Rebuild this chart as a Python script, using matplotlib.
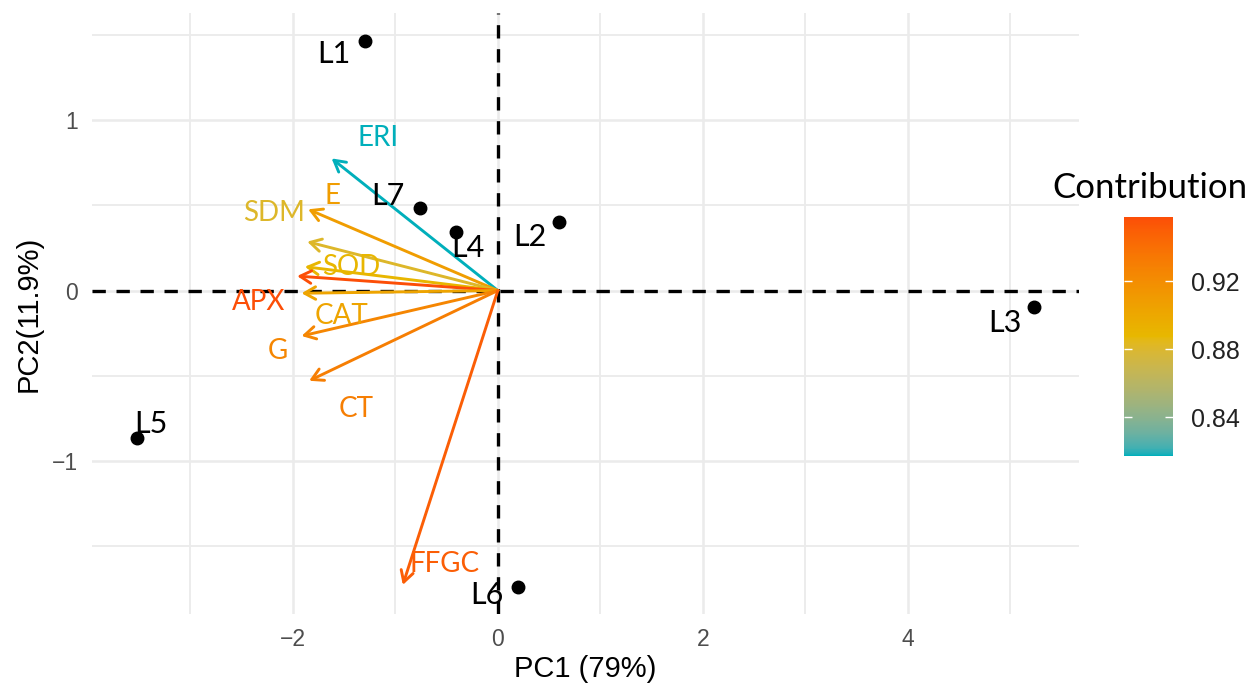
import numpy as np
import matplotlib.pyplot as plt
import matplotlib as mpl
from matplotlib.colors import ListedColormap, Normalize, to_rgb

# individuals (scores on PC1 / PC2)
ind_names = ["L1", "L2", "L3", "L4", "L5", "L6", "L7"]
ind_pc1 = [-1.30, 0.595, 5.23, -0.41, -3.52, 0.195, -0.76]
ind_pc2 = [1.465, 0.402, -0.097, 0.343, -0.866, -1.741, 0.484]
# label offsets from the point, in pixels (repelled labels)
ind_lab_dx = [-31, -29, -29, 12, 14, -31, -32]
ind_lab_dy = [-13, -15, -16, -16, 14, -8, 12]

# variables (arrow tips) and their contribution
var_names = ["ERI", "E", "SDM", "SOD", "APX", "CAT", "G", "CT", "FFGC"]
var_pc1 = [-1.622, -1.851, -1.860, -1.883, -1.958, -1.915, -1.915, -1.841, -0.927]
var_pc2 = [0.776, 0.477, 0.287, 0.140, 0.085, -0.016, -0.267, -0.530, -1.729]
var_contrib = [0.817, 0.908, 0.881, 0.889, 0.958, 0.903, 0.925, 0.930, 0.950]
var_lab_dx = [46, 24, -33, 46, -39, 40, -24, 47, 42]
var_lab_dy = [20, 13, 29, 0, -26, -23, -15, -28, 21]

grad_cols = ["#00AFBB", "#E7B800", "#FC4E07"]


# gradient interpolated in Lab space, like ggplot's gradientn
def srgb_to_lab(rgb):
    c = np.asarray(rgb, float)
    lin = np.where(c <= 0.04045, c / 12.92, ((c + 0.055) / 1.055) ** 2.4)
    m = np.array([[0.4124, 0.3576, 0.1805],
                  [0.2126, 0.7152, 0.0722],
                  [0.0193, 0.1192, 0.9505]])
    xyz = m @ lin / np.array([0.95047, 1.0, 1.08883])
    f = np.where(xyz > 0.008856, np.cbrt(xyz), 7.787 * xyz + 16 / 116)
    return np.array([116 * f[1] - 16, 500 * (f[0] - f[1]), 200 * (f[1] - f[2])])


def lab_to_srgb(lab):
    L, a, b = lab
    fy = (L + 16) / 116
    fx = fy + a / 500
    fz = fy - b / 200
    f = np.array([fx, fy, fz])
    xyz = np.where(f ** 3 > 0.008856, f ** 3, (f - 16 / 116) / 7.787)
    xyz = xyz * np.array([0.95047, 1.0, 1.08883])
    mi = np.array([[3.2406, -1.5372, -0.4986],
                   [-0.9689, 1.8758, 0.0415],
                   [0.0557, -0.2040, 1.0570]])
    lin = mi @ xyz
    lin = np.clip(lin, 0, 1)
    c = np.where(lin <= 0.0031308, 12.92 * lin, 1.055 * lin ** (1 / 2.4) - 0.055)
    return np.clip(c, 0, 1)


labs = [srgb_to_lab(to_rgb(c)) for c in grad_cols]
t = np.linspace(0, 1, 256)
cols = []
for v in t:
    if v <= 0.5:
        w = v / 0.5
        lab = labs[0] * (1 - w) + labs[1] * w
    else:
        w = (v - 0.5) / 0.5
        lab = labs[1] * (1 - w) + labs[2] * w
    cols.append(lab_to_srgb(lab))
cmap = ListedColormap(cols)
norm = Normalize(vmin=min(var_contrib), vmax=max(var_contrib))

fig = plt.figure(figsize=(12.51, 6.84), dpi=100)
ax = fig.add_axes([0.0735, 0.1023, 0.789, 0.8787])

ax.set_xlim(-3.96, 5.67)
ax.set_ylim(-1.90, 1.63)
ax.set_xticks([-2, 0, 2, 4])
ax.set_xticklabels(["\u22122", "0", "2", "4"])
ax.set_yticks([-1, 0, 1])
ax.set_yticklabels(["\u22121", "0", "1"])
ax.set_xticks([-3, -1, 1, 3, 5], minor=True)
ax.set_yticks([-1.5, -0.5, 0.5, 1.5], minor=True)
ax.grid(True, which="major", color="#EBEBEB", lw=1.8)
ax.grid(True, which="minor", color="#EBEBEB", lw=1.3)
ax.set_axisbelow(True)
for s in ax.spines.values():
    s.set_visible(False)
ax.tick_params(which="both", length=0)
ax.tick_params(axis="x", pad=10, labelsize=16.5, labelcolor="#4D4D4D")
ax.tick_params(axis="y", pad=10, labelsize=16.5, labelcolor="#4D4D4D")
for lab in ax.get_xticklabels() + ax.get_yticklabels():
    lab.set_family("Liberation Sans")

ax.axhline(0, color="black", lw=2.4, ls=(0, (4, 3.2)), zorder=2)
ax.axvline(0, color="black", lw=2.4, ls=(0, (4, 3.2)), zorder=2)

ax.set_xlabel("PC1 (79%)", fontsize=21, family="Liberation Sans", labelpad=3)
ax.set_ylabel("PC2(11.9%)", fontsize=21, family="Liberation Sans", labelpad=7)

# individuals
ax.plot(ind_pc1, ind_pc2, "o", color="black", ms=9, zorder=4)
for n, x, y, dx, dy in zip(ind_names, ind_pc1, ind_pc2, ind_lab_dx, ind_lab_dy):
    ax.annotate(n, (x, y), xytext=(dx, dy), textcoords="offset pixels",
                ha="center", va="center", fontsize=22, family="Lato",
                color="black", zorder=5)

# variable arrows
for n, x, y, c, dx, dy in zip(var_names, var_pc1, var_pc2, var_contrib,
                               var_lab_dx, var_lab_dy):
    col = cmap(norm(c))
    ax.annotate("", xy=(x, y), xytext=(0, 0),
                arrowprops=dict(arrowstyle="->,head_length=0.8,head_width=0.45",
                                color=col, lw=2.1, shrinkA=0, shrinkB=0),
                zorder=3)
    ax.annotate(n, (x, y), xytext=(dx, dy), textcoords="offset pixels",
                ha="center", va="center", fontsize=20, family="Lato",
                color=col, zorder=5)

# colour bar
cax = fig.add_axes([0.8985, 0.3333, 0.0392, 0.3494])
sm = mpl.cm.ScalarMappable(norm=norm, cmap=cmap)
cb = fig.colorbar(sm, cax=cax, ticks=[0.84, 0.88, 0.92])
cb.outline.set_visible(False)
cax.tick_params(which="both", direction="in", color="white", length=6, width=1,
                left=True, right=True, labelsize=18, labelcolor="#222222", pad=13)
for lab in cax.get_yticklabels():
    lab.set_family("Liberation Sans")
fig.text(1052 / 1251, 1 - 188 / 684, "Contribution", fontsize=25, family="Lato",
         ha="left", va="center")

fig.savefig("out.png", dpi=100)
